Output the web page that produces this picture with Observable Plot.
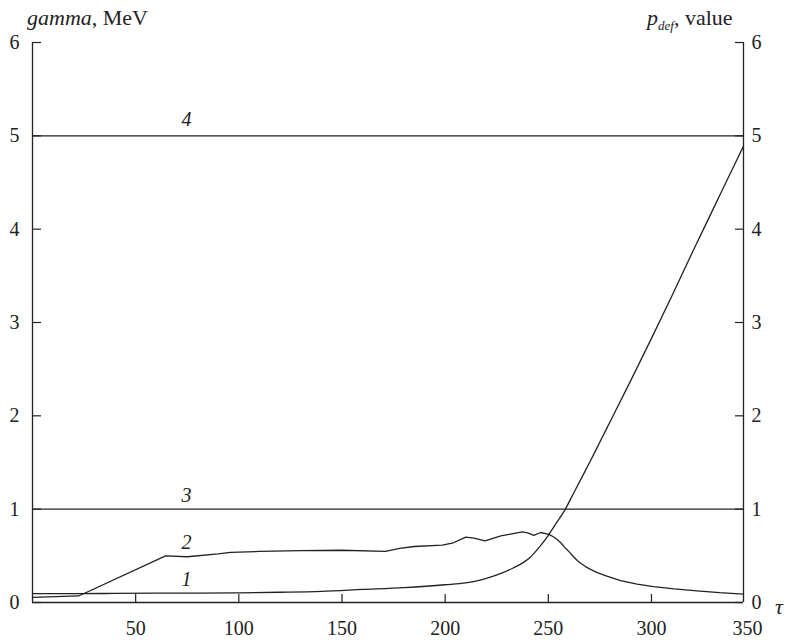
<!DOCTYPE html>
<html>
<head>
<meta charset="utf-8">
<script src="https://cdn.jsdelivr.net/npm/d3@7"></script>
<script src="https://cdn.jsdelivr.net/npm/@observablehq/plot@0.6"></script>
<style>
  html, body { margin: 0; padding: 0; background: #fff; }
  #chart { width: 788px; height: 642px; }
  #chart svg text { font-family: "Liberation Serif", "Times New Roman", serif; }
</style>
</head>
<body>
<div id="chart"></div>
<script>
// ---- data ----
const xMax = 344.6;                       // right edge of plotted τ range
const xTicks = [50, 100, 150, 200, 250, 300];
const xEndLabel = ["350"];
const yTicks = [0, 1, 2, 3, 4, 5, 6];

// curve 1
const tau1 = [0, 20, 40, 60, 80, 100, 120, 140, 160, 180, 200, 210, 217, 223, 228, 233, 238, 241, 244, 247, 250, 254, 258, 262, 266, 270, 275, 280, 290, 300, 310, 320, 330, 340, 344.6];
const val1 = [0.095, 0.095, 0.097, 0.10, 0.10, 0.103, 0.11, 0.12, 0.14, 0.16, 0.19, 0.21, 0.24, 0.28, 0.32, 0.37, 0.43, 0.48, 0.55, 0.63, 0.72, 0.855, 0.99, 1.16, 1.33, 1.50, 1.72, 1.94, 2.38, 2.83, 3.29, 3.76, 4.22, 4.68, 4.89];

// curve 2
const tau2 = [0, 22.4, 64.5, 75, 90, 96, 110, 130, 150, 171, 178, 185, 198.6, 204, 210, 214, 219.3, 222, 227, 231, 237.4, 240, 243, 246.2, 250.3, 252, 254, 256, 258, 260, 262, 264, 266, 268, 270, 273.7, 278, 285, 293, 301, 311, 322, 333, 344.6];
const val2 = [0.054, 0.07, 0.50, 0.49, 0.52, 0.536, 0.547, 0.555, 0.56, 0.547, 0.58, 0.60, 0.615, 0.64, 0.70, 0.69, 0.66, 0.68, 0.715, 0.73, 0.757, 0.745, 0.72, 0.75, 0.73, 0.71, 0.68, 0.64, 0.59, 0.545, 0.495, 0.45, 0.415, 0.385, 0.36, 0.32, 0.285, 0.235, 0.197, 0.17, 0.145, 0.125, 0.105, 0.09];

// constant levels 3 and 4
const levels = [1, 5];

// curve numbers
const curveNames = ["1", "2", "3", "4"];
const curveNameX = [74.6, 74.6, 74.6, 74.6];
const curveNameY = [0.241, 0.643, 1.146, 5.175];

// ---- build ----
const W = 788, H = 642;
const mL = 32, mR = 45, mT = 42, mB = 40;
const frameW = W - mL - mR, frameH = H - mT - mB;
const ink = "#222";
const ff = "Liberation Serif";

const c1 = tau1.map((t, i) => ({t, v: val1[i]}));
const c2 = tau2.map((t, i) => ({t, v: val2[i]}));
const names = curveNames.map((n, i) => ({n, x: curveNameX[i], y: curveNameY[i]}));

const svg = Plot.plot({
  width: W, height: H,
  marginLeft: mL, marginRight: mR, marginTop: mT, marginBottom: mB,
  style: {fontFamily: ff, fontSize: "20px", color: ink, background: "#fff"},
  x: {domain: [0, xMax], axis: null},
  y: {domain: [0, 6], axis: null},
  marks: [
    // axis lines
    Plot.ruleX([0, xMax], {stroke: ink, strokeWidth: 1.3}),
    Plot.ruleY([0], {stroke: ink, strokeWidth: 1.3}),
    // inward ticks
    Plot.tickY(yTicks, {y: d => d, insetRight: frameW - 9, stroke: ink, strokeWidth: 1.2}),
    Plot.tickY(yTicks, {y: d => d, insetLeft: frameW - 8, stroke: ink, strokeWidth: 1.2}),
    Plot.tickX(xTicks, {x: d => d, insetTop: frameH - 8, stroke: ink, strokeWidth: 1.2}),
    // tick labels
    Plot.axisY({ticks: yTicks, anchor: "left", tickSize: 0, tickPadding: 13, label: null, fontFamily: ff, fontSize: 20, tickFormat: d => String(d)}),
    Plot.axisY({ticks: yTicks, anchor: "right", tickSize: 0, tickPadding: 8, label: null, fontFamily: ff, fontSize: 20, tickFormat: d => String(d)}),
    Plot.axisX({ticks: xTicks, anchor: "bottom", tickSize: 0, tickPadding: 18, label: null, fontFamily: ff, fontSize: 20, tickFormat: d => String(d)}),
    Plot.text(xEndLabel, {x: xMax, frameAnchor: "bottom", text: d => d, dy: 18, dx: 4, lineAnchor: "top", fill: ink, fontFamily: ff, fontSize: 20}),
    // levels 3, 4
    Plot.ruleY(levels, {stroke: ink, strokeWidth: 1.3}),
    // curves
    Plot.line(c1, {x: "t", y: "v", stroke: ink, strokeWidth: 1.3, curve: "monotone-x"}),
    Plot.line(c2, {x: "t", y: "v", stroke: ink, strokeWidth: 1.3, curve: "linear"}),
    // curve names
    Plot.text(names, {x: "x", y: "y", text: "n", fontStyle: "italic", fontFamily: ff, fontSize: 20, fill: ink, textAnchor: "middle"})
  ]
});

// axis titles
const s = d3.select(svg);
const t1 = s.append("text").attr("x", 27).attr("y", 25).attr("text-anchor", "start")
  .attr("font-size", 22).attr("font-family", ff).attr("fill", ink);
t1.append("tspan").attr("font-style", "italic").text("gamma");
t1.append("tspan").text(", MeV");

const t2 = s.append("text").attr("x", 647).attr("y", 25).attr("text-anchor", "start")
  .attr("font-size", 22).attr("font-family", ff).attr("fill", ink);
t2.append("tspan").attr("font-style", "italic").text("p");
t2.append("tspan").attr("font-style", "italic").attr("font-size", 13).attr("dy", 5).text("def");
t2.append("tspan").attr("dy", -5).text(", value");

s.append("text").attr("x", 775).attr("y", 614).attr("text-anchor", "start")
  .attr("font-size", 22).attr("font-family", ff)
  .attr("font-style", "italic").attr("fill", ink).text("τ");

document.getElementById("chart").appendChild(svg);
</script>
</body>
</html>
